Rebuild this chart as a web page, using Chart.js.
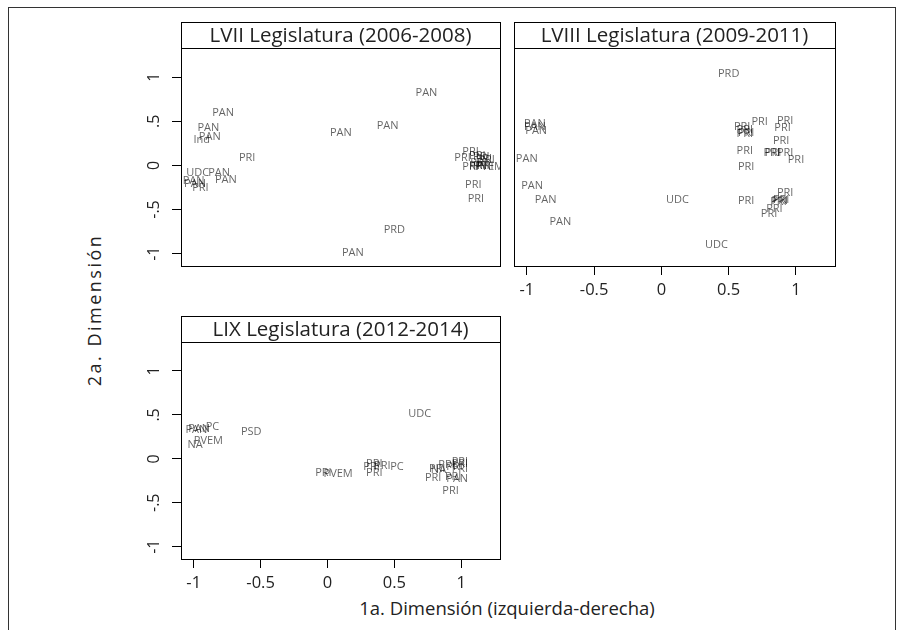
<!DOCTYPE html>
<html><head><meta charset="utf-8">
<script src="https://cdn.jsdelivr.net/npm/chart.js@4.4.1/dist/chart.umd.min.js"></script>
<style>
html,body{margin:0;padding:0;background:#fff;}
body{width:900px;height:630px;position:relative;overflow:hidden;font-family:'Open Sans',sans-serif;}
canvas{position:absolute;left:0;top:0;}
#frame{position:absolute;left:8px;top:7px;width:888px;height:660px;border:1px solid #333;box-sizing:border-box;}
#ytitle{position:absolute;left:94px;top:310px;transform:translate(-50%,-50%) rotate(-90deg);font-size:18px;color:#222;white-space:nowrap;letter-spacing:2.5px;}
#xtitle{position:absolute;left:507px;top:607px;transform:translate(-50%,-50%);font-size:18.5px;color:#222;white-space:nowrap;}
</style></head>
<body>
<div id="frame"></div>
<div id="ytitle">2a. Dimensión</div>
<div id="xtitle">1a. Dimensión (izquierda-derecha)</div>
<canvas id="c1" width="900" height="630"></canvas>
<canvas id="c2" width="900" height="630"></canvas>
<canvas id="c3" width="900" height="630"></canvas>
<script>
// ---- data ----
const panelTitles = ["LVII Legislatura (2006-2008)", "LVIII Legislatura (2009-2011)", "LIX Legislatura (2012-2014)"];
const xTicks = [-1, -0.5, 0, 0.5, 1];
const xTickLabels = ["-1", "-0.5", "0", "0.5", "1"];
const yTicks = [-1, -0.5, 0, 0.5, 1];
const yTickLabels = ["-1", "-.5", "0", ".5", "1"];

const lviiParty = ["PAN","PAN","PAN","PAN","Ind","PAN","PAN","PRI","UDC","PAN","PAN","PAN","PAN","PRI","PRD","PAN",
  "PRI","PRI","PRI","PRI","PRI","PRI","PRI","PRI","PRI","PRI","PVEM","PRI","PRI","PRI"];
const lviiX = [0.74,-0.78,-0.89,-0.88,-0.94,0.10,0.45,-0.60,-0.97,-0.81,-0.76,-1.00,-0.99,-0.95,0.50,0.19,
  1.07,1.01,1.12,1.15,1.17,1.13,1.15,1.18,1.07,1.12,1.21,1.19,1.09,1.11];
const lviiY = [0.82,0.59,0.42,0.32,0.29,0.37,0.45,0.09,-0.08,-0.09,-0.16,-0.17,-0.21,-0.26,-0.73,-0.99,
  0.15,0.09,0.11,0.10,0.07,0.03,0.00,0.00,-0.02,-0.01,-0.02,0.06,-0.22,-0.38];

const lviiiParty = ["PRD","PAN","PAN","PAN","PAN","PAN","PAN","PAN","UDC","UDC",
  "PRI","PRI","PRI","PRI","PRI","PRI","PRI","PRI","PRI","PRI","PRI","PRI","PRI","PRI","PRI","PRI","PRI","PRI","PRI","PRI","PRI"];
const lviiiX = [0.50,-0.94,-0.94,-0.93,-1.00,-0.96,-0.86,-0.75,0.12,0.41,
  0.73,0.92,0.90,0.60,0.62,0.62,0.63,0.89,0.62,0.82,0.83,0.92,1.00,0.63,0.92,0.88,0.89,0.87,0.63,0.84,0.80];
const lviiiY = [1.04,0.47,0.44,0.39,0.07,-0.23,-0.39,-0.64,-0.39,-0.90,
  0.49,0.50,0.43,0.44,0.40,0.36,0.37,0.28,0.17,0.14,0.14,0.14,0.06,-0.02,-0.31,-0.40,-0.39,-0.41,-0.40,-0.49,-0.55];

const lixParty = ["UDC","PSD","PC","PAN","PAN","PVEM","NA","PRI","PVEM","PRI","PRI","PRI","PRI","PC",
  "PRI","NA","PRI","PRI","PRI","PRI","PRI","PRI","PAN","PRI","PRI"];
const lixX = [0.69,-0.57,-0.86,-0.98,-0.96,-0.89,-0.99,-0.03,0.08,0.35,0.33,0.35,0.41,0.52,
  0.89,0.83,0.82,0.79,0.99,0.99,0.99,0.95,0.97,0.94,0.92];
const lixY = [0.51,0.31,0.36,0.33,0.34,0.21,0.16,-0.16,-0.17,-0.06,-0.09,-0.16,-0.08,-0.09,
  -0.07,-0.12,-0.11,-0.22,-0.03,-0.06,-0.11,-0.09,-0.23,-0.21,-0.37];

// ---- drawing ----
const FONT = "'Open Sans', sans-serif";
const xRange = [-1.095, 1.29];
const yRange = [-1.14, 1.33];

const panelPlugin = {
  id: 'panel',
  afterDatasetsDraw(chart, args, o) {
    const ctx = chart.ctx, a = chart.chartArea;
    ctx.save();
    ctx.beginPath(); ctx.rect(a.left, a.top, a.right - a.left, a.bottom - a.top); ctx.clip();
    ctx.font = "11px " + FONT;
    ctx.fillStyle = "rgba(0,0,0,0.62)";
    ctx.textAlign = "center"; ctx.textBaseline = "middle";
    const meta = chart.getDatasetMeta(0);
    meta.data.forEach((pt, i) => { ctx.fillText(o.labels[i], pt.x, pt.y); });
    ctx.restore();
  },
  afterDraw(chart, args, o) {
    const ctx = chart.ctx, a = chart.chartArea;
    ctx.save();
    ctx.strokeStyle = "#000"; ctx.lineWidth = 1;
    ctx.strokeRect(a.left + 0.5, a.top + 0.5, a.right - a.left, a.bottom - a.top);
    const sh = 26;
    ctx.fillStyle = "#fff";
    ctx.fillRect(a.left + 0.5, a.top - sh + 0.5, a.right - a.left, sh);
    ctx.strokeRect(a.left + 0.5, a.top - sh + 0.5, a.right - a.left, sh);
    ctx.fillStyle = "#222";
    ctx.font = "20.5px " + FONT;
    ctx.textAlign = "center"; ctx.textBaseline = "middle";
    ctx.fillText(o.title, (a.left + a.right) / 2, a.top - sh / 2 + 1);
    if (o.showY) {
      const ys = chart.scales.y;
      ctx.font = "16px " + FONT;
      yTicks.forEach((v, i) => {
        const py = ys.getPixelForValue(v);
        ctx.save();
        ctx.translate(a.left - 27, py);
        ctx.rotate(-Math.PI / 2);
        ctx.fillText(yTickLabels[i], 0, 0);
        ctx.restore();
      });
    }
    ctx.restore();
  }
};

function makePanel(id, title, labels, xs, ys, showX, showY, padding) {
  new Chart(document.getElementById(id), {
    type: 'scatter',
    data: { datasets: [{ data: xs.map((v, i) => ({ x: v, y: ys[i] })), pointRadius: 0, pointHoverRadius: 0 }] },
    options: {
      responsive: false, animation: false, events: [],
      layout: { padding: padding },
      plugins: { legend: { display: false }, tooltip: { enabled: false }, panel: { title: title, labels: labels, showY: showY } },
      scales: {
        x: {
          type: 'linear', min: xRange[0], max: xRange[1], display: showX,
          afterBuildTicks: s => { s.ticks = xTicks.map(v => ({ value: v })); },
          afterFit: s => { s.height = showX ? 40 : 0; },
          ticks: { callback: (v, i) => xTickLabels[i], font: { family: FONT, size: 16.5 }, color: '#222', padding: 5, maxRotation: 0, autoSkip: false },
          grid: { drawOnChartArea: false, drawTicks: true, tickLength: 9, color: '#000', lineWidth: 1 },
          border: { display: true, color: '#000', width: 1 }
        },
        y: {
          type: 'linear', min: yRange[0], max: yRange[1], display: showY,
          afterBuildTicks: s => { s.ticks = yTicks.map(v => ({ value: v })); },
          afterFit: s => { s.width = showY ? 40 : 0; },
          ticks: { display: false },
          grid: { drawOnChartArea: false, drawTicks: true, tickLength: 9, color: '#000', lineWidth: 1 },
          border: { display: true, color: '#000', width: 1 }
        }
      }
    },
    plugins: [panelPlugin]
  });
}

makePanel('c1', panelTitles[0], lviiParty, lviiX, lviiY, false, true, { left: 141, top: 48, right: 400, bottom: 364 });
makePanel('c2', panelTitles[1], lviiiParty, lviiiX, lviiiY, true, false, { left: 514, top: 48, right: 65, bottom: 324 });
makePanel('c3', panelTitles[2], lixParty, lixX, lixY, true, true, { left: 141, top: 342, right: 400, bottom: 31 });
</script>
</body></html>
